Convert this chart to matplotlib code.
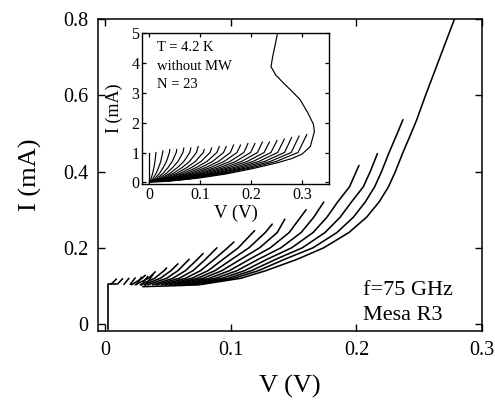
import matplotlib
matplotlib.use("Agg")
import matplotlib.pyplot as plt

plt.rcParams['font.family'] = ['Liberation Serif', 'DejaVu Serif']

# ---------------- main panel data (f = 75 GHz, mesa R3) ----------------
main_super_v = [0.002, 0.002, 0.009]
main_super_i = [-0.012, 0.105, 0.105]

main_branches_v = [
    [0.005, 0.009],
    [0.010, 0.014],
    [0.015, 0.019],
    [0.020, 0.024],
    [0.025, 0.029],
    [0.029, 0.034],
    [0.032, 0.038],
    [0.021, 0.0295, 0.032],
    [0.024, 0.0345, 0.040],
    [0.028, 0.0395, 0.047, 0.049],
    [0.031, 0.044, 0.0525, 0.058],
    [0.034, 0.049, 0.058, 0.067],
    [0.038, 0.054, 0.064, 0.072, 0.078],
    [0.041, 0.059, 0.070, 0.080, 0.089],
    [0.045, 0.064, 0.076, 0.087, 0.0975, 0.1025],
    [0.048, 0.069, 0.082, 0.094, 0.106, 0.119],
    [0.0515, 0.0735, 0.0875, 0.101, 0.1145, 0.1275, 0.133],
    [0.055, 0.078, 0.093, 0.108, 0.123, 0.137, 0.143],
    [0.058, 0.083, 0.099, 0.115, 0.1315, 0.1465, 0.1555, 0.160],
    [0.062, 0.088, 0.105, 0.122, 0.140, 0.156, 0.166, 0.174],
    [0.0655, 0.093, 0.111, 0.129, 0.1485, 0.1655, 0.1765, 0.185, 0.1945,
     0.202],
    [0.069, 0.098, 0.1165, 0.136, 0.157, 0.175, 0.187, 0.196, 0.2055, 0.211,
     0.2167],
    [0.072, 0.1025, 0.122, 0.143, 0.1655, 0.1845, 0.1975, 0.207, 0.2145,
     0.220, 0.226, 0.2325, 0.237],
    [0.030, 0.060, 0.075, 0.108, 0.128, 0.153, 0.174, 0.194, 0.208, 0.218,
     0.2255, 0.231, 0.237, 0.2435, 0.248, 0.255, 0.2665, 0.278],
]
main_branches_i = [
    [0.105, 0.118],
    [0.105, 0.119],
    [0.104, 0.120],
    [0.104, 0.121],
    [0.103, 0.123],
    [0.102, 0.125],
    [0.101, 0.129],
    [0.103, 0.12, 0.128],
    [0.103, 0.12, 0.137],
    [0.103, 0.12, 0.14, 0.147],
    [0.103, 0.12, 0.14, 0.158],
    [0.103, 0.12, 0.14, 0.170],
    [0.103, 0.12, 0.14, 0.165, 0.185],
    [0.103, 0.12, 0.14, 0.17, 0.20],
    [0.103, 0.12, 0.14, 0.17, 0.20, 0.215],
    [0.103, 0.12, 0.14, 0.17, 0.20, 0.245],
    [0.103, 0.12, 0.14, 0.17, 0.20, 0.24, 0.262],
    [0.103, 0.12, 0.14, 0.17, 0.20, 0.24, 0.275],
    [0.103, 0.12, 0.14, 0.17, 0.20, 0.24, 0.28, 0.30],
    [0.103, 0.12, 0.14, 0.17, 0.20, 0.24, 0.28, 0.32],
    [0.103, 0.12, 0.14, 0.17, 0.20, 0.24, 0.28, 0.32, 0.36, 0.416],
    [0.103, 0.12, 0.14, 0.17, 0.20, 0.24, 0.28, 0.32, 0.36, 0.40, 0.447],
    [0.103, 0.12, 0.14, 0.17, 0.20, 0.24, 0.28, 0.32, 0.36, 0.40, 0.45,
     0.50, 0.536],
    [0.098, 0.101, 0.103, 0.12, 0.14, 0.17, 0.20, 0.24, 0.28, 0.32, 0.36,
     0.40, 0.45, 0.50, 0.536, 0.60, 0.70, 0.80],
]

main_xticks = [0, 0.1, 0.2, 0.3]
main_xticklabels = ["0", "0.1", "0.2", "0.3"]
main_yticks = [0, 0.2, 0.4, 0.6, 0.8]
main_yticklabels = ["0", "0.2", "0.4", "0.6", "0.8"]

# ---------------- inset data (T = 4.2 K, without MW, N = 23) ----------------
inset_super_v = [0.0, 0.0]
inset_super_i = [0.0, 1.0]

inset_branches_v = [
    [0.0013, 0.0036, 0.0067, 0.0093, 0.0113, 0.0133],
    [0.0026, 0.0072, 0.0135, 0.0185, 0.0226, 0.0265, 0.0267],
    [0.0039, 0.0108, 0.0202, 0.0277, 0.0338, 0.0397, 0.0403],
    [0.0052, 0.0144, 0.0270, 0.0371, 0.0452, 0.0531, 0.0539],
    [0.0065, 0.0180, 0.0336, 0.0462, 0.0564, 0.0662, 0.0679],
    [0.0078, 0.0217, 0.0405, 0.0556, 0.0679, 0.0796, 0.0817],
    [0.0091, 0.0252, 0.0471, 0.0648, 0.0790, 0.0927, 0.0961],
    [0.0104, 0.0289, 0.0539, 0.0741, 0.0905, 0.1061, 0.1079],
    [0.0117, 0.0325, 0.0606, 0.0833, 0.1017, 0.1193, 0.1224],
    [0.0131, 0.0361, 0.0674, 0.0927, 0.1131, 0.1327, 0.1375],
    [0.0143, 0.0397, 0.0741, 0.1018, 0.1243, 0.1458, 0.1510],
    [0.0157, 0.0433, 0.0809, 0.1112, 0.1357, 0.1592, 0.1655],
    [0.0170, 0.0469, 0.0876, 0.1203, 0.1469, 0.1723, 0.1791],
    [0.0183, 0.0505, 0.0944, 0.1297, 0.1583, 0.1857, 0.1937],
    [0.0196, 0.0541, 0.1011, 0.1389, 0.1695, 0.1989, 0.2074],
    [0.0209, 0.0578, 0.1079, 0.1482, 0.1810, 0.2123, 0.2220],
    [0.0222, 0.0613, 0.1145, 0.1574, 0.1921, 0.2254, 0.2357],
    [0.0235, 0.0650, 0.1214, 0.1668, 0.2036, 0.2388, 0.2506],
    [0.0248, 0.0686, 0.1280, 0.1759, 0.2148, 0.2519, 0.2651],
    [0.0261, 0.0722, 0.1349, 0.1853, 0.2262, 0.2654, 0.2793],
    [0.0274, 0.0758, 0.1415, 0.1945, 0.2374, 0.2785, 0.2940],
    [0.0287, 0.0794, 0.1483, 0.2038, 0.2488, 0.2919, 0.3091],
    [0.0, 0.05, 0.10, 0.15, 0.20, 0.25, 0.28, 0.30, 0.316, 0.324, 0.322,
     0.312, 0.296, 0.280, 0.263, 0.248, 0.239, 0.242, 0.247, 0.253],
]
inset_branches_i = [
    [0.03, 0.12, 0.3, 0.5, 0.7, 1.00],
    [0.03, 0.12, 0.3, 0.5, 0.7, 1.0, 1.05],
    [0.03, 0.12, 0.3, 0.5, 0.7, 1.0, 1.10],
    [0.03, 0.12, 0.3, 0.5, 0.7, 1.0, 1.10],
    [0.03, 0.12, 0.3, 0.5, 0.7, 1.0, 1.15],
    [0.03, 0.12, 0.3, 0.5, 0.7, 1.0, 1.15],
    [0.03, 0.12, 0.3, 0.5, 0.7, 1.0, 1.20],
    [0.03, 0.12, 0.3, 0.5, 0.7, 1.0, 1.10],
    [0.03, 0.12, 0.3, 0.5, 0.7, 1.0, 1.15],
    [0.03, 0.12, 0.3, 0.5, 0.7, 1.0, 1.20],
    [0.03, 0.12, 0.3, 0.5, 0.7, 1.0, 1.20],
    [0.03, 0.12, 0.3, 0.5, 0.7, 1.0, 1.25],
    [0.03, 0.12, 0.3, 0.5, 0.7, 1.0, 1.25],
    [0.03, 0.12, 0.3, 0.5, 0.7, 1.0, 1.30],
    [0.03, 0.12, 0.3, 0.5, 0.7, 1.0, 1.30],
    [0.03, 0.12, 0.3, 0.5, 0.7, 1.0, 1.35],
    [0.03, 0.12, 0.3, 0.5, 0.7, 1.0, 1.35],
    [0.03, 0.12, 0.3, 0.5, 0.7, 1.0, 1.40],
    [0.03, 0.12, 0.3, 0.5, 0.7, 1.0, 1.45],
    [0.03, 0.12, 0.3, 0.5, 0.7, 1.0, 1.50],
    [0.03, 0.12, 0.3, 0.5, 0.7, 1.0, 1.55],
    [0.03, 0.12, 0.3, 0.5, 0.7, 1.0, 1.60],
    [0.0, 0.06, 0.15, 0.28, 0.45, 0.65, 0.80, 0.95, 1.2, 1.7, 1.95,
     2.3, 2.77, 3.05, 3.33, 3.6, 3.87, 4.2, 4.6, 5.1],
]

inset_xticks = [0, 0.1, 0.2, 0.3]
inset_xticklabels = ["0", "0.1", "0.2", "0.3"]
inset_yticks = [0, 1, 2, 3, 4, 5]
inset_yticklabels = ["0", "1", "2", "3", "4", "5"]

# ---------------- figure ----------------
fig = plt.figure(figsize=(4.95, 4.05), dpi=100)
ax = fig.add_axes([0.198, 0.183, 0.776, 0.770])

ax.plot(main_super_v, main_super_i, color='black', lw=1.2)
for v, i in zip(main_branches_v, main_branches_i):
    ax.plot(v, i, color='black', lw=1.15, solid_capstyle='round')

ax.set_xlim(-0.0056, 0.3)
ax.set_ylim(-0.018, 0.8)
ax.set_xticks(main_xticks)
ax.set_xticklabels(main_xticklabels)
ax.set_yticks(main_yticks)
ax.set_yticklabels(main_yticklabels)
ax.tick_params(direction='in', top=True, right=True, length=5, width=1.0,
               labelsize=14.5)
ax.tick_params(axis='x', pad=7)
ax.tick_params(axis='y', pad=7)
for s in ax.spines.values():
    s.set_linewidth(1.1)
ax.set_xlabel("V (V)", fontsize=19)
ax.set_ylabel("I (mA)", fontsize=19)
ax.xaxis.set_label_coords(0.5, -0.14)
ax.yaxis.set_label_coords(-0.145, 0.5)

ax.text(0.69, 0.131, "f=75 GHz", transform=ax.transAxes, fontsize=16,
        ha='left', va='center')
ax.text(0.69, 0.048, "Mesa R3", transform=ax.transAxes, fontsize=16,
        ha='left', va='center')

# inset
axi = fig.add_axes([0.287, 0.546, 0.378, 0.3725])
axi.plot(inset_super_v, inset_super_i, color='black', lw=0.9)
for v, i in zip(inset_branches_v, inset_branches_i):
    axi.plot(v, i, color='black', lw=0.85)
axi.set_xlim(-0.014, 0.353)
axi.set_ylim(-0.05, 5.0)
axi.set_xticks(inset_xticks)
axi.set_xticklabels(inset_xticklabels)
axi.set_yticks(inset_yticks)
axi.set_yticklabels(inset_yticklabels)
axi.tick_params(direction='in', top=True, right=True, length=3, width=0.9,
                labelsize=11.5, pad=2)
for s in axi.spines.values():
    s.set_linewidth(1.0)
axi.set_xlabel("V (V)", fontsize=13.5)
axi.set_ylabel("I (mA)", fontsize=13)
axi.xaxis.set_label_coords(0.5, -0.135)
axi.yaxis.set_label_coords(-0.10, 0.5)

axi.text(0.08, 0.907, "T = 4.2 K", transform=axi.transAxes, fontsize=10.5,
         ha='left', va='center')
axi.text(0.08, 0.78, "without MW", transform=axi.transAxes, fontsize=10.5,
         ha='left', va='center')
axi.text(0.08, 0.656, "N = 23", transform=axi.transAxes, fontsize=10.5,
         ha='left', va='center')

fig.savefig("out.png", dpi=100)
